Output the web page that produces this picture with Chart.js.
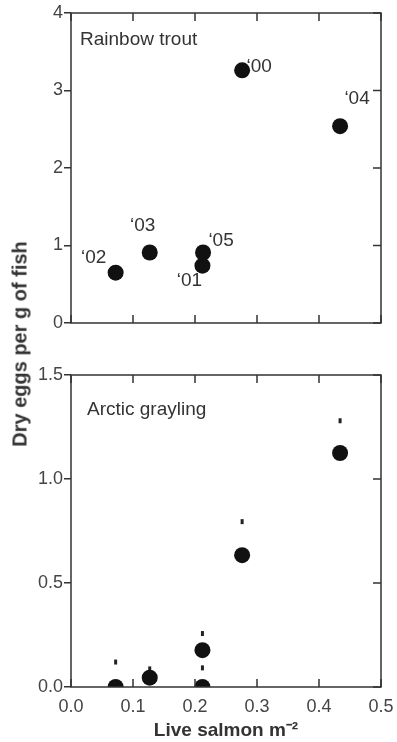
<!DOCTYPE html>
<html>
<head>
<meta charset="utf-8">
<script src="https://cdn.jsdelivr.net/npm/chart.js@4/dist/chart.umd.min.js"></script>
<style>
  html, body { margin: 0; padding: 0; background: #fff; overflow: hidden; }
  #wrap { position: relative; width: 397px; height: 742px; }
  canvas { position: absolute; left: 0; }
  #ytitle {
    position: absolute; left: 20px; top: 344px;
    transform: translate(-50%, -50%) rotate(-90deg);
    font: bold 20px "Liberation Sans", Arial, sans-serif; color: #333; white-space: nowrap;
  }
</style>
</head>
<body>
<div id="wrap">
  <canvas id="top" width="397" height="340" style="top:0"></canvas>
  <canvas id="bottom" width="397" height="402" style="top:340px"></canvas>
  <div id="ytitle">Dry eggs per g of fish</div>
</div>
<script>
// ---- data ----
const years = ["\u201800", "\u201801", "\u201802", "\u201803", "\u201804", "\u201805"];
const troutSalmon = [0.276, 0.212, 0.072, 0.127, 0.434, 0.213];
const troutEggs = [3.26, 0.74, 0.65, 0.91, 2.54, 0.91];
const graylingSalmon = [0.072, 0.127, 0.212, 0.212, 0.276, 0.434];
const graylingEggs = [0.0, 0.045, 0.177, 0.0, 0.634, 1.125];
const graylingErrTop = [0.12, 0.087, 0.257, 0.092, 0.795, 1.28];
const xTicks = [0.0, 0.1, 0.2, 0.3, 0.4, 0.5];
const troutYTicks = [0, 1, 2, 3, 4];
const graylingYTicks = [0.0, 0.5, 1.0, 1.5];

// ---- style (label offsets in px, relative to point) ----
const yearLabelOffsets = [[17, -4], [-13, 15], [-22, -15], [-7, -27], [17, -27], [18, -12]];
const FONT = '"Liberation Sans", Arial, sans-serif';
const INK = '#222';

function pts(xs, ys) { return xs.map((x, i) => ({ x, y: ys[i] })); }

const framePlugin = {
  id: 'frame',
  afterDraw(chart, args, opts) {
    const { ctx, chartArea: a, scales } = chart;
    ctx.save();
    ctx.strokeStyle = '#333';
    ctx.lineWidth = 1.5;
    ctx.strokeRect(a.left, a.top, a.right - a.left, a.bottom - a.top);
    const tl = 8;
    ctx.beginPath();
    xTicks.forEach(v => {
      const px = scales.x.getPixelForValue(v);
      ctx.moveTo(px, a.bottom); ctx.lineTo(px, a.bottom - tl);
      ctx.moveTo(px, a.top); ctx.lineTo(px, a.top + tl);
    });
    opts.yTicks.forEach(v => {
      const py = scales.y.getPixelForValue(v);
      ctx.moveTo(a.right, py); ctx.lineTo(a.right - tl, py);
    });
    ctx.stroke();
    // panel title
    ctx.fillStyle = '#333';
    ctx.font = '19px ' + FONT;
    ctx.textAlign = 'left';
    ctx.textBaseline = 'middle';
    ctx.fillText(opts.title, a.left + opts.titleDx, a.top + opts.titleDy);
    // year labels
    if (opts.labels) {
      ctx.textAlign = 'center';
      const meta = chart.getDatasetMeta(0);
      meta.data.forEach((el, i) => {
        const o = yearLabelOffsets[i];
        ctx.fillText(opts.labels[i], el.x + o[0], el.y + o[1]);
      });
    }
    ctx.restore();
  }
};

function makeOptions(cfg) {
  return {
    responsive: false,
    animation: false,
    layout: { padding: { left: 0, right: 16, top: cfg.padTop, bottom: 0 } },
    plugins: {
      legend: { display: false },
      tooltip: { enabled: false },
      frame: cfg.frame
    },
    scales: {
      x: {
        type: 'linear', min: 0, max: 0.5,
        afterBuildTicks: s => { s.ticks = xTicks.map(v => ({ value: v })); },
        afterFit: s => { s.height = cfg.xHeight; s.paddingLeft = 0; s.paddingRight = 0; },
        grid: { display: false, drawTicks: false },
        border: { display: false },
        ticks: {
          display: cfg.xLabels, padding: 9, color: '#444',
          font: { family: FONT, size: 18 },
          callback: v => Number(v).toFixed(1)
        },
        title: {
          display: cfg.xLabels, text: 'Live salmon m\u207B\u00B2', color: '#333',
          font: { family: FONT, size: 19, weight: 'bold' }, padding: { top: 0, bottom: 0 }
        }
      },
      y: {
        type: 'linear', min: cfg.yMin, max: cfg.yMax,
        afterBuildTicks: s => { s.ticks = cfg.yTicks.map(v => ({ value: v })); },
        afterFit: s => { s.width = 71; s.paddingTop = 0; s.paddingBottom = 0; },
        grid: { drawOnChartArea: false, drawTicks: true, tickLength: 7, color: '#333', lineWidth: 1.5 },
        border: { display: false },
        ticks: {
          padding: 1, color: '#444',
          font: { family: FONT, size: 18 },
          callback: cfg.yFmt
        }
      }
    }
  };
}

new Chart(document.getElementById('top'), {
  type: 'scatter',
  data: {
    datasets: [{
      data: pts(troutSalmon, troutEggs),
      pointRadius: 8, pointBackgroundColor: '#111', pointBorderWidth: 0
    }]
  },
  options: makeOptions({
    padTop: 13, xHeight: 17, xLabels: false, yMin: 0, yMax: 4, yTicks: troutYTicks,
    yFmt: v => String(v),
    frame: { yTicks: troutYTicks, title: 'Rainbow trout', titleDx: 9, titleDy: 27, labels: years }
  }),
  plugins: [framePlugin]
});

new Chart(document.getElementById('bottom'), {
  type: 'scatter',
  data: {
    datasets: [{
      data: pts(graylingSalmon, graylingEggs),
      pointRadius: 8, pointBackgroundColor: '#111', pointBorderWidth: 0
    }, {
      data: pts(graylingSalmon, graylingErrTop),
      pointStyle: 'line', rotation: 90, pointRadius: 2.5,
      pointBorderColor: INK, pointBorderWidth: 3
    }]
  },
  options: makeOptions({
    padTop: 35, xHeight: 55, xLabels: true, yMin: 0, yMax: 1.5, yTicks: graylingYTicks,
    yFmt: v => Number(v).toFixed(1),
    frame: { yTicks: graylingYTicks, title: 'Arctic grayling', titleDx: 16, titleDy: 35, labels: null }
  }),
  plugins: [framePlugin]
});
</script>
</body>
</html>
